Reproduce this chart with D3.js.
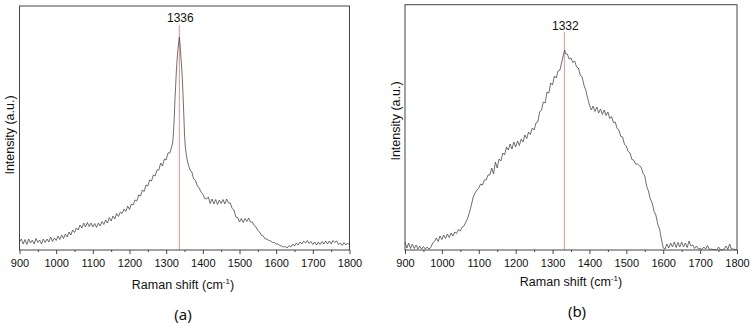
<!DOCTYPE html>
<html>
<head>
<meta charset="utf-8">
<script src="https://cdn.jsdelivr.net/npm/d3@7"></script>
<style>
  body { margin: 0; background: #fff; }
  svg { display: block; font-family: "Liberation Sans", Arial, sans-serif; }
  .frame { fill: none; stroke: #444; stroke-width: 1; }
  .x-axis .domain { display: none; }
  .x-axis line { stroke: #444; }
  .x-axis text { font-size: 11px; fill: #111; }
  .spectrum { fill: none; stroke: #4a4a4a; stroke-width: 0.8; }
  .peak-line { stroke: #f09090; stroke-width: 1; }
</style>
</head>
<body>
<div id="chart"></div>
<script>
// ---- data (intensity in arbitrary units) ----
var ramanShiftA = [900,905,910,915,920,925,930,935,940,945,950,955,960,965,970,975,980,985,990,995,
    1000,1005,1010,1015,1020,1025,1030,1035,1040,1045,1050,1055,1060,1065,1070,1075,1080,1085,1090,1095,
    1100,1105,1110,1115,1120,1125,1130,1135,1140,1145,1150,1155,1160,1165,1170,1175,1180,1185,1190,1195,
    1200,1205,1210,1215,1220,1225,1230,1235,1240,1245,1250,1255,1260,1265,1270,1275,1280,1285,1290,1295,
    1300,1305,1310,1315,1318,1320,1322,1324,1326,1328,1330,1332,1334,1336,1338,1340,1342,1344,1346,1348,
    1350,1352,1355,1358,1360,1365,1370,1375,1380,1385,1390,1395,1400,1405,1410,1415,1420,1425,1430,1435,
    1440,1445,1450,1455,1460,1465,1470,1475,1480,1485,1490,1495,1500,1505,1510,1515,1520,1525,1530,1535,
    1540,1545,1550,1555,1560,1565,1570,1575,1580,1585,1590,1595,1600,1605,1610,1615,1620,1625,1630,1635,
    1640,1645,1650,1655,1660,1665,1670,1675,1680,1685,1690,1695,1700,1705,1710,1715,1720,1725,1730,1735,
    1740,1745,1750,1755,1760,1765,1770,1775,1780,1785,1790,1795,1800];
var intensityA = [8,11,6,10.5,5.5,11,7,10,6,11.5,7.5,10,6,11,7.5,11,8,13,8.5,12,
    9.5,14,10.5,15,11.5,16,13,18,15,20,17.5,22,20,25,22,27,23,27.5,23.5,27,
    23,26.5,22.5,27,24,28.5,25.5,30,27,32.5,29,34,31,36.5,33.5,38,36.5,41,38.5,44,
    40.5,46,45,50,49,55,54,60,58.5,65,64,70,69,75,74,80,80,87,84,91,
    90,97,97,103,108,118,132,150,165,180,191,200,207,213,205,194,184,172,155,136,
    116,104,95,89,86,80,78,71,69.5,64,62,58,56,51.5,51,53,46.5,51,46,50.5,
    45.5,50,46.5,50.5,46,51,47,47,41.5,40,33,32.5,28,31.5,27.5,31.5,28.5,32,28,28,
    24.5,23,19.5,18,14.5,14,11,11,9.5,9,7.5,7.5,6,6,4.5,4,3,3.5,2,4.5,
    3,6,4,7,5,8,6,9,7,9.5,6.5,8.5,5.5,8,5,8,5.5,8.5,6,9,
    6,9,6,9.5,7.5,9,5.5,7,4.5,7.5,5,7,5];

var ramanShiftB = [900,905,910,915,920,925,930,935,940,945,950,955,960,965,970,975,980,985,990,995,
    1000,1005,1010,1015,1020,1025,1030,1035,1040,1045,1050,1055,1060,1065,1070,1075,1080,1085,1090,1095,
    1100,1105,1110,1115,1120,1125,1130,1135,1140,1145,1150,1155,1160,1165,1170,1175,1180,1185,1190,1195,
    1200,1205,1210,1215,1220,1225,1230,1235,1240,1245,1250,1255,1260,1265,1270,1275,1280,1285,1290,1295,
    1300,1305,1310,1315,1320,1325,1330,1333,1336,1340,1345,1350,1355,1360,1365,1370,1375,1380,1385,1390,
    1395,1400,1405,1410,1415,1420,1425,1430,1435,1440,1445,1450,1455,1460,1465,1470,1475,1480,1485,1490,
    1495,1500,1505,1510,1515,1520,1525,1530,1535,1540,1545,1550,1555,1560,1565,1570,1575,1580,1585,1590,
    1595,1600,1605,1610,1615,1620,1625,1630,1635,1640,1645,1650,1655,1660,1665,1670,1675,1680,1685,1690,
    1695,1700,1705,1710,1715,1720,1725,1730,1735,1740,1745,1750,1755,1760,1765,1770,1775,1780,1785,1790,
    1795,1800];
var intensityB = [8,2,7,1.5,6,1.5,5,1,4,1,3.5,1,3,1,2.5,7,8.5,12,8.5,14,
    10.5,15,11.5,16,12.5,17,14,18,16.5,20.5,19,23,24,28,32,38,45,53,57,60,
    62,66,65,70,70,75,75,82,76,88,82,91,89,97,95,103,100,106,101,108,
    103,109,104.5,111,108,115,111.5,118,115.5,122,120,127,128,138,140,148,147,158,157,167,
    165,174,172,179,180,188,196,200,196,196,191,192,187.5,189,183,182,175,173,165,160,
    152,145,140,144,138.5,143,137,141,135.5,140,134.5,138,131.5,133.5,127.5,128,121.5,120,113.5,113,
    105.5,104,98.5,97,90.5,90,86,86,84.5,83,77,74,64,59,51,47,39,35,26,21,
    11,2,1,6,2,7,3,8,2.5,7.5,3,8,3,7,2.5,9,4,5,1.5,4,
    1,1.5,0.5,3,1,4.5,0.5,1,0.5,0.5,0,3,0.5,0,1,4,0.5,6,1,1,
    0.5,0.5];

var xTicks = [900, 1000, 1100, 1200, 1300, 1400, 1500, 1600, 1700, 1800];
var xMinorTicks = [950, 1050, 1150, 1250, 1350, 1450, 1550, 1650, 1750];
var peakA = 1336, peakB = 1332;

var svg = d3.select("#chart").append("svg")
    .attr("width", 751)
    .attr("height", 323);

function drawPanel(opts) {
    var x = d3.scaleLinear().domain([900, 1800]).range([opts.left, opts.right]);
    var y = d3.scaleLinear().domain([0, opts.yMax]).range([opts.bottom, opts.top]);

    var g = svg.append("g");

    // minor ticks
    g.append("g")
        .attr("class", "x-axis")
        .attr("transform", "translate(0," + opts.bottom + ")")
        .call(d3.axisBottom(x).tickValues(xMinorTicks).tickSize(2).tickFormat(""));

    // major ticks + labels
    g.append("g")
        .attr("class", "x-axis")
        .attr("transform", "translate(0," + opts.bottom + ")")
        .call(d3.axisBottom(x).tickValues(xTicks).tickSize(4).tickPadding(5).tickFormat(d3.format("d")));

    // peak marker
    g.append("line")
        .attr("class", "peak-line")
        .attr("x1", x(opts.peak)).attr("x2", x(opts.peak))
        .attr("y1", opts.peakLineTop).attr("y2", opts.bottom);

    g.append("text")
        .attr("x", x(opts.peak) + 1)
        .attr("y", opts.peakLabelY)
        .attr("text-anchor", "middle")
        .attr("font-size", 12)
        .attr("fill", "#111")
        .text(opts.peak);

    // spectrum
    var line = d3.line()
        .x(function (d) { return x(d[0]); })
        .y(function (d) { return y(d[1]); });

    g.append("path")
        .datum(d3.zip(opts.xs, opts.ys))
        .attr("class", "spectrum")
        .attr("d", line);

    // frame
    g.append("rect")
        .attr("class", "frame")
        .attr("x", opts.left).attr("y", opts.top)
        .attr("width", opts.right - opts.left)
        .attr("height", opts.bottom - opts.top);

    // axis titles
    var xt = g.append("text")
        .attr("x", opts.xTitleX)
        .attr("y", opts.xTitleY)
        .attr("text-anchor", "middle")
        .attr("font-size", 12.5)
        .attr("fill", "#111");
    xt.append("tspan").text("Raman shift (cm");
    xt.append("tspan").attr("dy", -5).attr("font-size", 8).text("-1");
    xt.append("tspan").attr("dy", 5).text(")");

    g.append("text")
        .attr("transform", "translate(" + opts.yTitleX + "," + opts.yTitleY + ") rotate(-90)")
        .attr("text-anchor", "middle")
        .attr("font-size", 12.5)
        .attr("fill", "#111")
        .text("Intensity (a.u.)");

    g.append("text")
        .attr("x", opts.capX)
        .attr("y", opts.capY)
        .attr("text-anchor", "middle")
        .attr("font-family", "'Noto Sans', sans-serif")
        .attr("font-size", 15)
        .attr("fill", "#111")
        .text(opts.caption);
}

drawPanel({
    xs: ramanShiftA, ys: intensityA, yMax: 244,
    left: 19.5, right: 349.5, top: 6, bottom: 250,
    peak: peakA, peakLineTop: 25, peakLabelY: 22,
    xTitleX: 183, xTitleY: 289, yTitleX: 14, yTitleY: 135,
    caption: "(a)", capX: 183, capY: 320
});

drawPanel({
    xs: ramanShiftB, ys: intensityB, yMax: 245.3,
    left: 405, right: 737, top: 4.7, bottom: 250,
    peak: peakB, peakLineTop: 32, peakLabelY: 30,
    xTitleX: 571, xTitleY: 286, yTitleX: 400, yTitleY: 121,
    caption: "(b)", capX: 577, capY: 317
});
</script>
</body>
</html>
